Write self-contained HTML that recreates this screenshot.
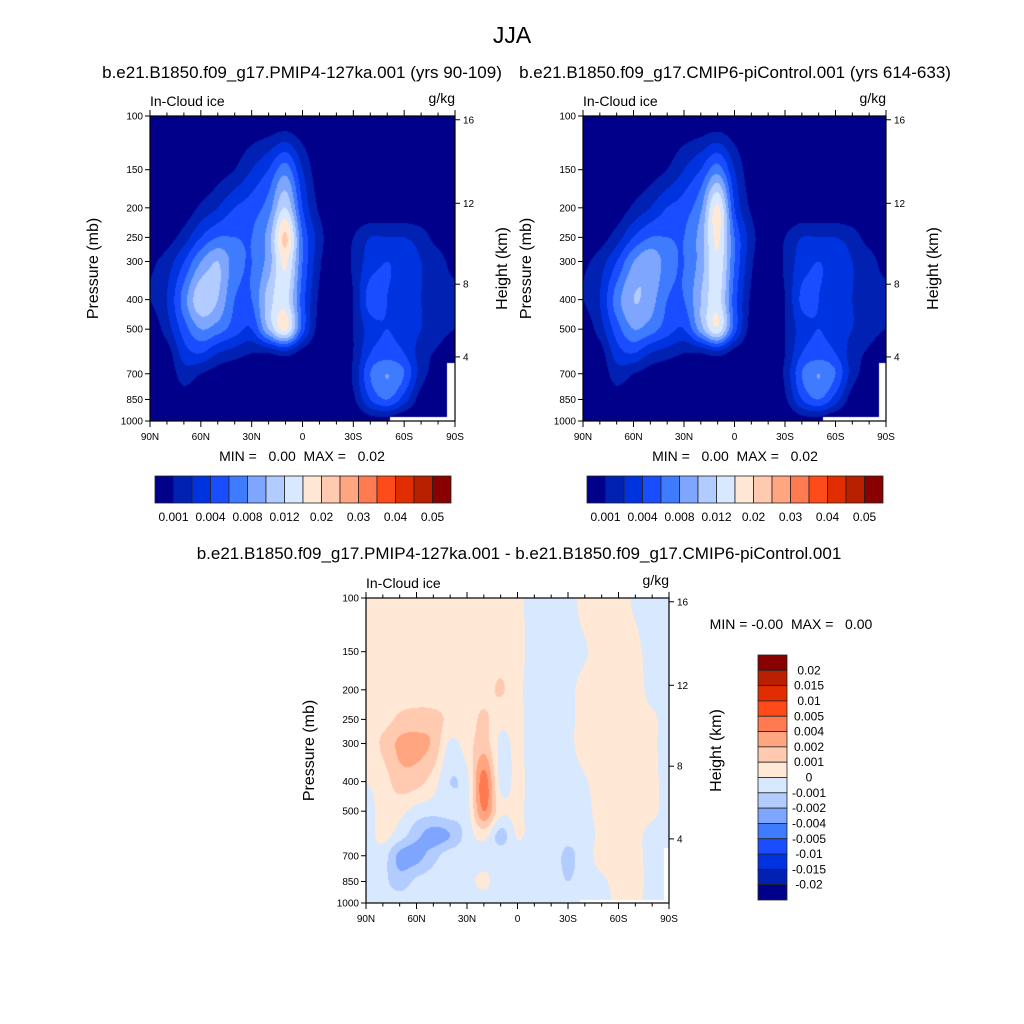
<!DOCTYPE html>
<html><head><meta charset="utf-8"><style>
body{margin:0;background:#fff;}
#wrap{position:relative;width:1024px;height:1024px;overflow:hidden;font-family:"Liberation Sans",Arial,sans-serif;}
canvas,svg{position:absolute;left:0;top:0;}
text{white-space:pre;}
</style></head><body>
<div id="wrap">
<canvas id="cv" width="1024" height="1024"></canvas>
<svg id="sv" width="1024" height="1024"></svg>
</div>
<script>
// ---- data ----
const lats=[90,80,70,60,50,40,30,20,10,0,-10,-20,-30,-40,-50,-60,-70,-80,-90];
const plevs=[100,150,200,250,300,400,500,600,700,850,1000];
const colors1=["#00008a","#0021b2","#0033e0","#1a4dff","#3f7bff","#7ea6ff","#b3ccff","#d8e9ff","#ffe8d6","#ffcab0","#ffa580","#ff7a50","#ff4a1a","#e02e00","#b82000","#880000"];
const barLabels1=["0.001","0.004","0.008","0.012","0.02","0.03","0.04","0.05"];
const barLabels3=["0.02","0.015","0.01","0.005","0.004","0.002","0.001","0","-0.001","-0.002","-0.004","-0.005","-0.01","-0.015","-0.02"];
const field1=[
[0,0,0,0,0,0,0,0,0,0,0,0,0,0,0,0,0,0,0],
[0,0,0,0,0.5,1,2,3,4.5,2,0.3,0,0,0,0,0,0,0,0],
[0,0,0.3,1.2,2,3,3.5,4.5,7,3,0.8,0,0,0,0,0,0,0,0],
[0,0.5,1.5,3,4,4,4,5.5,9.2,4,1.5,0,1,2,2,2,1.5,0.5,0],
[0.8,1.5,3,5,6,4.5,4,5.5,8.2,4,1.2,0,1.2,2.5,3,2.5,2,1.5,0.5],
[1,2,4.5,6.8,6,4,4,6.5,7.5,3.5,0.8,0,1,3.5,3,2.5,2,1.5,1.5],
[0.3,1.5,3.5,5,4.5,3.5,3,6,8.2,3.5,0.5,0,1,2.5,3,2.5,2,1.5,1],
[0,0.5,2.5,3,2,1.5,1,1,1.5,0.5,0,0,1,3,3.5,3,1.5,0.8,0],
[0,0.2,1.5,1,0.5,0.2,0,0,0,0,0,0,1.2,4,5,4,1.5,0.5,0],
[0,0,0.5,0,0,0,0,0,0,0,0,0,0.8,3,4,2.5,0.5,0,0],
[0,0,0,0,0,0,0,0,0,0,0,0,0,0.5,0.5,0,0,0,0]];
const field2=[
[0,0,0,0,0,0,0,0,0,0,0,0,0,0,0,0,0,0,0],
[0,0,0,0,0.5,1,2,3,4.5,2,0.3,0,0,0,0,0,0,0,0],
[0,0,0.3,1.2,2,3,3.5,4.8,8.2,3,0.8,0,0,0,0,0,0,0,0],
[0,0.5,1.5,3,4,4,4,5.5,8.2,4,1.5,0,1,2,2,2,1.5,0.5,0],
[0.8,1.5,3,5,5.8,4.5,4,5.5,7.8,4,1.2,0,1.2,2.5,3,2.5,2,1.5,0.5],
[1,2,4.5,6,5.5,4,4,6,7.5,3.5,0.8,0,1,3.2,3,2.5,2,1.5,1.5],
[0.3,1.5,3.5,5,4.5,3.5,3,5.5,7.8,3.5,0.5,0,1,2.5,3,2.5,2,1.5,1],
[0,0.5,2.5,3,2,1.5,1,1,1.5,0.5,0,0,1,3,3.5,3,1.5,0.8,0],
[0,0.2,1.5,1,0.5,0.2,0,0,0,0,0,0,1.2,4,5,4,1.5,0.5,0],
[0,0,0.5,0,0,0,0,0,0,0,0,0,0.8,3,4,2.5,0.5,0,0],
[0,0,0,0,0,0,0,0,0,0,0,0,0,0.5,0.5,0,0,0,0]];
const field3=[
[8.5,8.5,8.5,8.5,8.5,8.5,8.5,8.5,8.5,8.3,7.5,7.5,7.5,8.5,8.5,8.5,7.8,7.5,7.5],
[8.5,8.5,8.5,8.5,8.5,8.5,8.5,8.5,8.5,8.4,7.5,7.5,7.5,7.9,8.5,8.5,8.3,7.5,7.5],
[8.5,8.5,8.5,8.5,8.5,8.5,8.8,8.6,9.1,8.3,7.5,7.5,7.7,8.4,8.5,8.5,8.5,7.6,7.5],
[8.5,8.6,9.2,9.4,9.3,8.8,8.5,9.2,8.3,8.3,7.5,7.5,7.7,8.4,8.4,8.4,8.4,8.2,7.5],
[8.3,9.2,10.2,10.3,9.8,7.8,8.5,9.5,7.8,8.2,7.5,7.5,7.7,8.5,8.5,8.5,8.5,8.2,7.5],
[8.0,8.5,9.5,9.4,8.5,7.0,7.7,11.5,7.7,8.3,7.5,7.5,7.5,7.9,8.5,8.5,8.5,8.3,7.5],
[7.5,8.4,8.3,7.6,7.4,7.5,7.6,11,8.3,8.3,7.5,7.5,7.5,7.7,8.4,8.5,8.5,8.3,7.5],
[7.5,8.3,7.5,6.3,5.5,6,7.4,8.4,6.6,8.1,7.5,7.5,7.3,7.5,8.3,8.5,8.4,7.5,7.5],
[7.6,7.5,5.7,5.6,6.6,7.5,7.5,7.6,7.6,7.5,7.5,7.5,6.8,7.5,8.4,8.5,8.4,7.5,7.5],
[7.5,7.3,6.5,7.2,7.5,7.5,7.7,8.2,7.5,7.6,7.5,7.5,7.0,7.5,7.8,8.4,8.4,7.6,7.5],
[7.5,7.5,7.5,7.5,7.5,7.5,7.5,7.5,7.5,7.5,7.5,7.5,7.5,7.5,7.5,8.3,8.3,7.5,7.5]];
const xTickLabels=["90N","60N","30N","0","30S","60S","90S"];
const pTicks=[100,150,200,250,300,400,500,700,850,1000];
const hTicks=[16,12,8,4];
// ---- rendering ----
const NS="http://www.w3.org/2000/svg";
const sv=document.getElementById('sv');
const ctx=document.getElementById('cv').getContext('2d');
function el(tag,attrs,parent,text){const e=document.createElementNS(NS,tag);for(const k in attrs)e.setAttribute(k,attrs[k]);if(text!==undefined)e.textContent=text;(parent||sv).appendChild(e);return e;}
function hex(c){return [parseInt(c.substr(1,2),16),parseInt(c.substr(3,2),16),parseInt(c.substr(5,2),16)];}
const rgb=colors1.map(hex);
function cr(p0,p1,p2,p3,t){return 0.5*((2*p1)+(-p0+p2)*t+(2*p0-5*p1+4*p2-p3)*t*t+(-p0+3*p1-3*p2+p3)*t*t*t);}
function sample(field,fi,fj){
  const nI=field.length,nJ=field[0].length;
  const i1=Math.min(Math.floor(fi),nI-2),j1=Math.min(Math.floor(fj),nJ-2);
  const a=fi-i1,b=fj-j1;const rows=[];
  for(let di=-1;di<=2;di++){const ii=Math.max(0,Math.min(nI-1,i1+di));const R=field[ii];
    const g=d=>R[Math.max(0,Math.min(nJ-1,j1+d))];
    rows.push(cr(g(-1),g(0),g(1),g(2),b));}
  return cr(rows[0],rows[1],rows[2],rows[3],a);
}
function hToP(km){const z=km*1000;return z<=11000?1013.25*Math.pow(1-2.25577e-5*z,5.25588):226.32*Math.exp(-(z-11000)/6341.6);}
function panel(field,x0,y0,w,h,name,mask){
  const sx=lat=>x0+(90-lat)/180*w;
  const sy=p=>y0+Math.log10(p/100)*h;
  const img=ctx.createImageData(w,h);
  const lp=plevs.map(p=>Math.log10(p));
  for(let py=0;py<h;py++){
    const l=2+(py+0.5)/h;let r=0;while(r<lp.length-2&&l>lp[r+1])r++;
    const fi=r+(l-lp[r])/(lp[r+1]-lp[r]);
    for(let px=0;px<w;px++){
      const lat=90-(px+0.5)/w*180;
      const fj=(90-lat)/10;
      let v=sample(field,fi,fj);let k=Math.max(0,Math.min(15,Math.floor(v)));
      const c=rgb[k],o=(py*w+px)*4;img.data[o]=c[0];img.data[o+1]=c[1];img.data[o+2]=c[2];img.data[o+3]=255;
    }
  }
  ctx.putImageData(img,x0,y0);
  ctx.fillStyle="#fff";mask.forEach(m=>ctx.fillRect(m[0],m[1],m[2],m[3]));
  const g=el('g',{});
  el('rect',{x:x0,y:y0,width:w,height:h,fill:'none',stroke:'#000','stroke-width':1.2},g);
  for(let lat=90;lat>=-90;lat-=10){const x=sx(lat),mj=(lat%30===0);
    el('line',{x1:x,x2:x,y1:y0+h,y2:y0+h+(mj?6:3.5),stroke:'#000'},g);
    el('line',{x1:x,x2:x,y1:y0,y2:y0-(mj?6:3.5),stroke:'#000'},g);}
  xTickLabels.forEach((t,i)=>{const e=el('text',{x:sx(90-i*30),y:y0+h+19,'font-size':10,'text-anchor':'middle'},g,t);});
  pTicks.forEach(p=>{const y=sy(p);el('line',{x1:x0-5,x2:x0,y1:y,y2:y,stroke:'#000'},g);
    const e=el('text',{x:x0-7,y:y+3.5,'font-size':10,'text-anchor':'end'},g,String(p));});
  hTicks.forEach(km=>{const y=sy(hToP(km));el('line',{x1:x0+w,x2:x0+w+5,y1:y,y2:y,stroke:'#000'},g);
    const e=el('text',{x:x0+w+8,y:y+3.5,'font-size':10},g,String(km));});
  const t1=el('text',{x:x0,y:y0-10,'font-size':14},g,'In-Cloud ice');
  const t2=el('text',{x:x0+w,y:y0-13,'font-size':14,'text-anchor':'end'},g,'g/kg');
  const t3=el('text',{transform:`translate(${x0-52},${y0+h/2}) rotate(-90)`,'font-size':16,'text-anchor':'middle'},g,'Pressure (mb)');
  const t4=el('text',{transform:`translate(${x0+w+52},${y0+h/2}) rotate(-90)`,'font-size':16,'text-anchor':'middle'},g,'Height (km)');
}
function hbar(x0,y0,w,h,name){
  const g=el('g',{});const bw=w/16;
  colors1.forEach((c,i)=>{const r=el('rect',{x:x0+i*bw,y:y0,width:bw,height:h,fill:c,stroke:'#222','stroke-width':0.8},g);});
  barLabels1.forEach((t,i)=>{const e=el('text',{x:x0+bw*(2*i+1),y:y0+h+18,'font-size':12,'text-anchor':'middle'},g,t);});
}
function vbar(x0,y0,w,h,name){
  const g=el('g',{});const bh=h/16;
  colors1.slice().reverse().forEach((c,i)=>{const r=el('rect',{x:x0,y:y0+i*bh,width:w,height:bh,fill:c,stroke:'#222','stroke-width':0.8},g);});
  barLabels3.forEach((t,i)=>{const e=el('text',{x:x0+w+22,y:y0+(i+1)*bh+4,'font-size':12,'text-anchor':'middle'},g,t);});
}
function txt(x,y,s,size,name,anchor){const e=el('text',{x:x,y:y,'font-size':size,'text-anchor':anchor||'middle'},sv,s);}
panel(field1,150,116,305,305,'panel-pmip4',[[447,363,8,58],[390,417,65,4]]);
panel(field2,583,116,303,305,'panel-picontrol',[[879,363,7,58],[823,417,63,4]]);
panel(field3,366,598,303,305,'panel-difference',[[664,848,5,55],[580,900,89,3]]);
hbar(155,476,296,27,'colorbar-pmip4');
hbar(587,476,296,27,'colorbar-picontrol');
vbar(758,655,29,245,'colorbar-difference');
txt(512,43,'JJA',23,'main-title');
txt(302,78,'b.e21.B1850.f09_g17.PMIP4-127ka.001 (yrs 90-109)',17,'subtitle-left');
txt(735,78,'b.e21.B1850.f09_g17.CMIP6-piControl.001 (yrs 614-633)',17,'subtitle-right');
txt(302,461,'MIN =   0.00  MAX =   0.02',14,'minmax-left');
txt(735,461,'MIN =   0.00  MAX =   0.02',14,'minmax-right');
txt(519,559,'b.e21.B1850.f09_g17.PMIP4-127ka.001 - b.e21.B1850.f09_g17.CMIP6-piControl.001',17,'difference-title');
txt(791,629,'MIN = -0.00  MAX =   0.00',14,'minmax-difference');
</script>
</body></html>
